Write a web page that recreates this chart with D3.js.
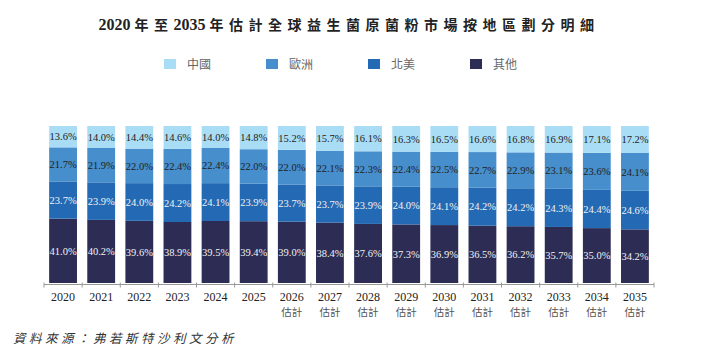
<!DOCTYPE html>
<html>
<head>
<meta charset="utf-8">
<script src="https://cdn.jsdelivr.net/npm/d3@7"></script>
<style>
  body { margin: 0; background: #fff; }
  svg { display: block; }
</style>
</head>
<body>
<svg id="chart" width="708" height="358"></svg>
<script>
const years = ['2020','2021','2022','2023','2024','2025','2026','2027','2028','2029','2030','2031','2032','2033','2034','2035']
const estimated = [false,false,false,false,false,false,true,true,true,true,true,true,true,true,true,true]
const regions = ['中國','歐洲','北美','其他']
const china = [13.6,14.0,14.4,14.6,14.0,14.8,15.2,15.7,16.1,16.3,16.5,16.6,16.8,16.9,17.1,17.2]
const europe = [21.7,21.9,22.0,22.4,22.4,22.0,22.0,22.1,22.3,22.4,22.5,22.7,22.9,23.1,23.6,24.1]
const northAmerica = [23.7,23.9,24.0,24.2,24.1,23.9,23.7,23.7,23.9,24.0,24.1,24.2,24.2,24.3,24.4,24.6]
const others = [41.0,40.2,39.6,38.9,39.5,39.4,39.0,38.4,37.6,37.3,36.9,36.5,36.2,35.7,35.0,34.2]
const titleParts = ['2020', '年至', '2035', '年估計全球益生菌原菌粉市場按地區劃分明細']

const colors = { '中國': '#a9ddf5', '歐洲': '#468ecc', '北美': '#2369b3', '其他': '#2c2c54' }
const labelColors = { '中國': '#222', '歐洲': '#222', '北美': '#f2f2f2', '其他': '#f2f2f2' }
const serif = '"Liberation Serif", "Times New Roman", serif'
const cjk = '"Noto Sans CJK TC", sans-serif'

const svg = d3.select('#chart')
const plotLeft = 44, plotRight = 654, plotTop = 126, plotBottom = 283

const rows = years.map((y, i) => ({
    year: y, '中國': china[i], '歐洲': europe[i], '北美': northAmerica[i], '其他': others[i]
}))

// bottom to top
const stack = d3.stack().keys(['其他','北美','歐洲','中國']).offset(d3.stackOffsetExpand)
const series = stack(rows)

const xScale = d3.scaleBand().domain(years).range([plotLeft, plotRight]).paddingInner(0.27).paddingOuter(0.135)
const yScale = d3.scaleLinear().domain([0, 1]).range([plotBottom, plotTop])

// title: digits tight serif, chinese spaced out
const title = svg.append('text')
    .attr('x', 349).attr('y', 30)
    .attr('text-anchor', 'middle')
    .style('font-weight', 'bold')
    .style('font-size', '14px')
    .style('fill', '#222')
titleParts.forEach(t => {
    const isDigits = /^\d+$/.test(t)
    title.append('tspan')
        .attr('dx', isDigits ? 0 : 4)
        .style('font-family', isDigits ? serif : cjk)
        .style('font-size', isDigits ? '16px' : '14px')
        .style('letter-spacing', isDigits ? '0px' : '5.5px')
        .text(t)
})

// legend
const legend = svg.append('g')
regions.forEach((r, i) => {
    const lx = 164 + i * 102
    legend.append('rect')
        .attr('x', lx).attr('y', 59)
        .attr('width', 12).attr('height', 10)
        .attr('fill', colors[r])
    legend.append('text')
        .attr('x', lx + 23).attr('y', 68.5)
        .style('font-family', cjk)
        .style('font-size', '12px')
        .style('fill', '#666')
        .text(r)
})

// bars
const groups = svg.selectAll('g.series')
    .data(series)
    .enter()
    .append('g')
    .attr('class', 'series')
    .attr('fill', d => colors[d.key])

groups.selectAll('rect')
    .data(d => d)
    .enter()
    .append('rect')
    .attr('x', d => xScale(d.data.year))
    .attr('width', xScale.bandwidth())
    .attr('y', d => yScale(d[1]))
    .attr('height', d => yScale(d[0]) - yScale(d[1]))

groups.selectAll('text')
    .data(d => d.map(p => ({ p: p, key: d.key })))
    .enter()
    .append('text')
    .attr('x', d => xScale(d.p.data.year) + xScale.bandwidth() / 2)
    .attr('y', d => (yScale(d.p[0]) + yScale(d.p[1])) / 2 + 3.8)
    .attr('text-anchor', 'middle')
    .style('font-family', serif)
    .style('font-size', '10.5px')
    .style('fill', d => labelColors[d.key])
    .text(d => d.p.data[d.key].toFixed(1) + '%')

// x axis with ticks at band edges
const axis = svg.append('g').attr('stroke', '#999')
axis.append('line')
    .attr('x1', plotLeft).attr('x2', plotRight)
    .attr('y1', plotBottom + 1.5).attr('y2', plotBottom + 1.5)
d3.range(years.length + 1).forEach(i => {
    const tx = plotLeft + i * xScale.step()
    axis.append('line')
        .attr('x1', tx).attr('x2', tx)
        .attr('y1', plotBottom - 0.5).attr('y2', plotBottom + 4.5)
})

const ticks = svg.selectAll('g.tick-label')
    .data(years)
    .enter()
    .append('g')
    .attr('class', 'tick-label')
    .attr('transform', d => 'translate(' + (xScale(d) + xScale.bandwidth() / 2) + ',0)')

ticks.append('text')
    .attr('y', 300.5)
    .attr('text-anchor', 'middle')
    .style('font-family', serif)
    .style('font-size', '12px')
    .style('fill', '#222')
    .text(d => d)

ticks.filter((d, i) => estimated[i])
    .append('text')
    .attr('y', 316)
    .attr('text-anchor', 'middle')
    .style('font-family', cjk)
    .style('font-size', '10.5px')
    .style('fill', '#555')
    .text('估計')

// source
svg.append('text')
    .attr('x', 13).attr('y', 343)
    .style('font-family', cjk)
    .style('font-size', '12.5px')
    .style('font-style', 'italic')
    .style('letter-spacing', '3.5px')
    .style('fill', '#333')
    .text('資料來源：弗若斯特沙利文分析')
</script>
</body>
</html>
